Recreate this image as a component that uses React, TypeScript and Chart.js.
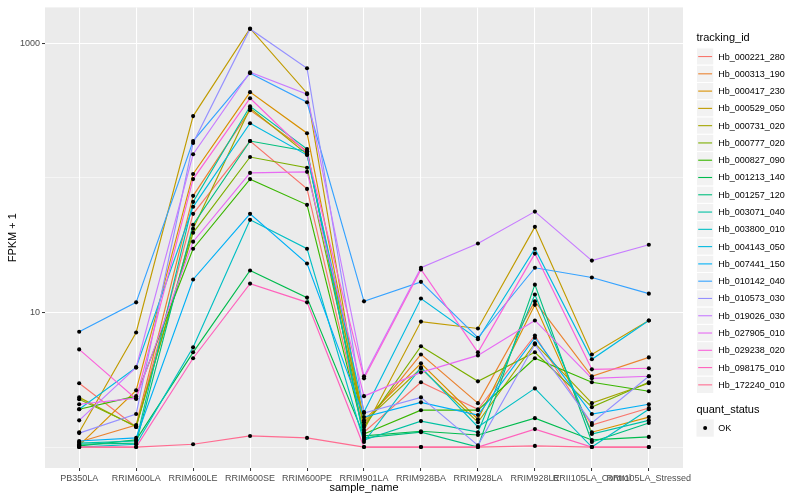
import React, { useEffect, useRef } from "react";
import { Chart, registerables } from "chart.js";

Chart.register(...registerables);

const FONT = "'Liberation Sans', Arial, Helvetica, sans-serif";

const categories = [
  "PB350LA", "RRIM600LA", "RRIM600LE", "RRIM600SE", "RRIM600PE", "RRIM901LA",
  "RRIM928BA", "RRIM928LA", "RRIM928LE", "RRII105LA_Control", "RRII105LA_Stressed",
];

const trackingIds = [
  "Hb_000221_280", "Hb_000313_190", "Hb_000417_230", "Hb_000529_050", "Hb_000731_020",
  "Hb_000777_020", "Hb_000827_090", "Hb_001213_140", "Hb_001257_120", "Hb_003071_040",
  "Hb_003800_010", "Hb_004143_050", "Hb_007441_150", "Hb_010142_040", "Hb_010573_030",
  "Hb_019026_030", "Hb_027905_010", "Hb_029238_020", "Hb_098175_010", "Hb_172240_010",
];

const seriesColors = [
  "#F8766D", "#EA8331", "#D89000", "#C09B00", "#A3A500", "#7CAE00", "#39B600",
  "#00BB4E", "#00BF7D", "#00C1A3", "#00BFC4", "#00BAE0", "#00B0F6", "#35A2FF",
  "#9590FF", "#C77CFF", "#E76BF3", "#FA62DB", "#FF62BC", "#FF6C91",
];

// FPKM + 1 per sample (order of categories)
const hb000221_280 = [2.98, 1.41, 54.1, 188, 82.9, 1.29, 3.03, 1.91, 6.75, 1.46, 1.95];
const hb000313_190 = [1.09, 1.46, 73.6, 319, 158, 1.46, 4.88, 2.12, 12.1, 3.36, 4.64];
const hb000417_230 = [1.03, 2.64, 107, 434, 215, 1.58, 4.19, 1.61, 11.4, 1.29, 1.67];
const hb000529_050 = [1.29, 7.11, 288, 1291, 426, 1.34, 8.56, 7.61, 43.3, 4.88, 8.73];
const hb000731_020 = [2.34, 1.41, 41.9, 330, 150, 1.53, 3.85, 1.53, 5.9, 2.12, 2.98];
const hb000777_020 = [2.27, 1.43, 39.1, 143, 119, 1.41, 5.61, 3.08, 5.06, 1.98, 3.03];
const hb000827_090 = [1.91, 2.39, 29.8, 98, 63.1, 1.25, 1.88, 1.88, 4.57, 3.03, 2.6];
const hb001213_140 = [1.02, 1.13, 5.06, 20.5, 12.9, 1.21, 1.31, 1.23, 1.64, 1.13, 1.19];
const hb001257_120 = [1.05, 1.07, 44.9, 188, 158, 1.17, 1.29, 1.0, 16.1, 1.09, 1.51];
const hb003071_040 = [1.07, 1.11, 66.4, 341, 164, 1.13, 1.56, 1.29, 13.6, 1.25, 1.58];
const hb003800_010 = [1.0, 1.05, 5.51, 48.8, 29.8, 1.09, 3.91, 1.41, 2.73, 1.0, 1.91];
const hb004143_050 = [1.91, 3.91, 61.0, 255, 148, 1.82, 12.7, 6.33, 29.8, 4.49, 8.73];
const hb007441_150 = [1.11, 1.17, 17.6, 54.1, 23.1, 1.67, 2.15, 1.73, 6.49, 1.76, 2.08];
const hb010142_040 = [7.2, 11.9, 188, 600, 365, 12.1, 16.9, 6.49, 21.5, 18.2, 13.8];
const hb010573_030 = [1.27, 1.76, 182, 1280, 653, 1.79, 2.34, 1.03, 5.8, 1.51, 3.36];
const hb019026_030 = [1.58, 3.91, 150, 610, 419, 3.36, 21.5, 32.6, 56.2, 24.3, 31.9];
const hb027905_010 = [2.08, 2.31, 33.6, 109, 111, 2.39, 3.59, 4.8, 8.73, 3.24, 3.36];
const hb029238_020 = [5.32, 2.28, 98, 391, 153, 3.24, 20.9, 5.06, 27.4, 3.78, 3.85];
const hb098175_010 = [1.0, 1.0, 4.57, 16.4, 11.9, 1.0, 1.0, 1.0, 1.36, 1.0, 1.0];
const hb172240_010 = [1.0, 1.0, 1.05, 1.21, 1.17, 1.0, 1.0, 1.0, 1.02, 1.0, 1.0];

const seriesValues = [
  hb000221_280, hb000313_190, hb000417_230, hb000529_050, hb000731_020,
  hb000777_020, hb000827_090, hb001213_140, hb001257_120, hb003071_040,
  hb003800_010, hb004143_050, hb007441_150, hb010142_040, hb010573_030,
  hb019026_030, hb027905_010, hb029238_020, hb098175_010, hb172240_010,
];

const yGridValues = [1, 10, 100, 1000];
const yMajorLabels = [10, 1000];
const quantStatus = ["OK"];

const panelPlugin = {
  id: "ggPanel",
  beforeDraw(chart: any) {
    const { ctx, chartArea } = chart;
    ctx.save();
    ctx.fillStyle = "#EBEBEB";
    ctx.fillRect(chartArea.left, chartArea.top, chartArea.right - chartArea.left, chartArea.bottom - chartArea.top);
    ctx.restore();
  },
  afterDraw(chart: any) {
    const { ctx, chartArea } = chart;
    ctx.save();
    // axis titles
    ctx.fillStyle = "#000";
    ctx.font = `11px ${FONT}`;
    ctx.textAlign = "center";
    ctx.textBaseline = "middle";
    ctx.fillText("sample_name", (chartArea.left + chartArea.right) / 2, 488);
    ctx.save();
    ctx.translate(13, (chartArea.top + chartArea.bottom) / 2);
    ctx.rotate(-Math.PI / 2);
    ctx.fillText("FPKM + 1", 0, 0);
    ctx.restore();

    // legend: tracking_id
    const x0 = 696.5;
    const keyH = 17.28;
    ctx.textAlign = "left";
    ctx.font = `11px ${FONT}`;
    ctx.fillText("tracking_id", x0, 38);
    const top0 = 47.9;
    trackingIds.forEach((id, i) => {
      const y = top0 + i * keyH;
      ctx.fillStyle = "#F2F2F2";
      ctx.fillRect(x0, y, keyH, keyH);
      ctx.strokeStyle = "#FFFFFF";
      ctx.lineWidth = 1;
      ctx.strokeRect(x0, y, keyH, keyH);
      ctx.strokeStyle = seriesColors[i];
      ctx.lineWidth = 1.1;
      ctx.beginPath();
      ctx.moveTo(x0 + 1.7, y + keyH / 2);
      ctx.lineTo(x0 + keyH - 1.7, y + keyH / 2);
      ctx.stroke();
      ctx.fillStyle = "#000";
      ctx.font = `9px ${FONT}`;
      ctx.fillText(id, x0 + keyH + 4.5, y + keyH / 2 + 0.5);
    });

    // legend: quant_status
    ctx.font = `11px ${FONT}`;
    ctx.fillStyle = "#000";
    ctx.fillText("quant_status", x0, 410);
    quantStatus.forEach((s, i) => {
      const y = 419.4 + i * keyH;
      ctx.fillStyle = "#F2F2F2";
      ctx.fillRect(x0, y, keyH, keyH);
      ctx.fillStyle = "#000";
      ctx.beginPath();
      ctx.arc(x0 + keyH / 2, y + keyH / 2, 2, 0, Math.PI * 2);
      ctx.fill();
      ctx.font = `9px ${FONT}`;
      ctx.fillText(s, x0 + keyH + 4.5, y + keyH / 2 + 0.5);
    });
    ctx.restore();
  },
};

export default function App() {
  const ref = useRef<HTMLCanvasElement | null>(null);

  useEffect(() => {
    if (!ref.current) return;
    const lineSets = seriesValues.map((vals, i) => ({
      type: "line",
      label: trackingIds[i],
      data: vals.map((v, j) => ({ x: j, y: v })),
      borderColor: seriesColors[i],
      backgroundColor: seriesColors[i],
      borderWidth: 1.15,
      pointRadius: 0,
      pointHoverRadius: 0,
      fill: false,
      tension: 0,
      order: 1 + (seriesValues.length - 1 - i),
    }));
    const pointSet = {
      type: "scatter",
      label: quantStatus[0],
      data: seriesValues.flatMap((vals) => vals.map((v, j) => ({ x: j, y: v }))),
      pointRadius: 2.05,
      pointHoverRadius: 2.05,
      pointBackgroundColor: "#000000",
      pointBorderWidth: 0,
      showLine: false,
      order: 0,
    };

    const chart = new Chart(ref.current, {
      type: "line",
      data: { datasets: [...lineSets, pointSet] as any },
      options: {
        animation: false,
        responsive: false,
        events: [],
        layout: { padding: { left: 0, top: 5, right: 117, bottom: 0 } },
        plugins: { legend: { display: false }, tooltip: { enabled: false } },
        scales: {
          x: {
            type: "linear",
            min: -0.6,
            max: 10.6,
            afterBuildTicks: (s: any) => {
              s.ticks = categories.map((_, i) => ({ value: i }));
            },
            afterFit: (s: any) => {
              s.height = 32;
            },
            border: { display: false },
            grid: {
              color: "#FFFFFF",
              lineWidth: 1.07,
              tickLength: 3,
              tickColor: "#333333",
              tickWidth: 1,
            },
            ticks: {
              autoSkip: false,
              maxRotation: 0,
              minRotation: 0,
              padding: 2,
              color: "#4D4D4D",
              font: { family: FONT, size: 9 },
              callback: (v: any) => categories[v] ?? "",
            },
          },
          y: {
            type: "logarithmic",
            min: 0.699,
            max: 1850,
            afterBuildTicks: (s: any) => {
              s.ticks = yGridValues.map((v) => ({ value: v }));
            },
            afterFit: (s: any) => {
              s.width = 45;
            },
            border: { display: false },
            grid: {
              color: "#FFFFFF",
              lineWidth: (c: any) => (c.tick && yMajorLabels.includes(c.tick.value) ? 1.07 : 0.53),
              tickLength: 3,
              tickColor: (c: any) => (c.tick && yMajorLabels.includes(c.tick.value) ? "#333333" : "rgba(0,0,0,0)"),
              tickWidth: 1,
            },
            ticks: {
              padding: 2,
              color: "#4D4D4D",
              font: { family: FONT, size: 9 },
              callback: (v: any) => (yMajorLabels.includes(Number(v)) ? String(v) : ""),
            },
          },
        },
      },
      plugins: [panelPlugin],
    } as any);
    return () => chart.destroy();
  }, []);

  return (
    <canvas
      ref={ref}
      width={800}
      height={500}
      style={{ position: "absolute", left: 0, top: 0, width: 800, height: 500 }}
    />
  );
}
